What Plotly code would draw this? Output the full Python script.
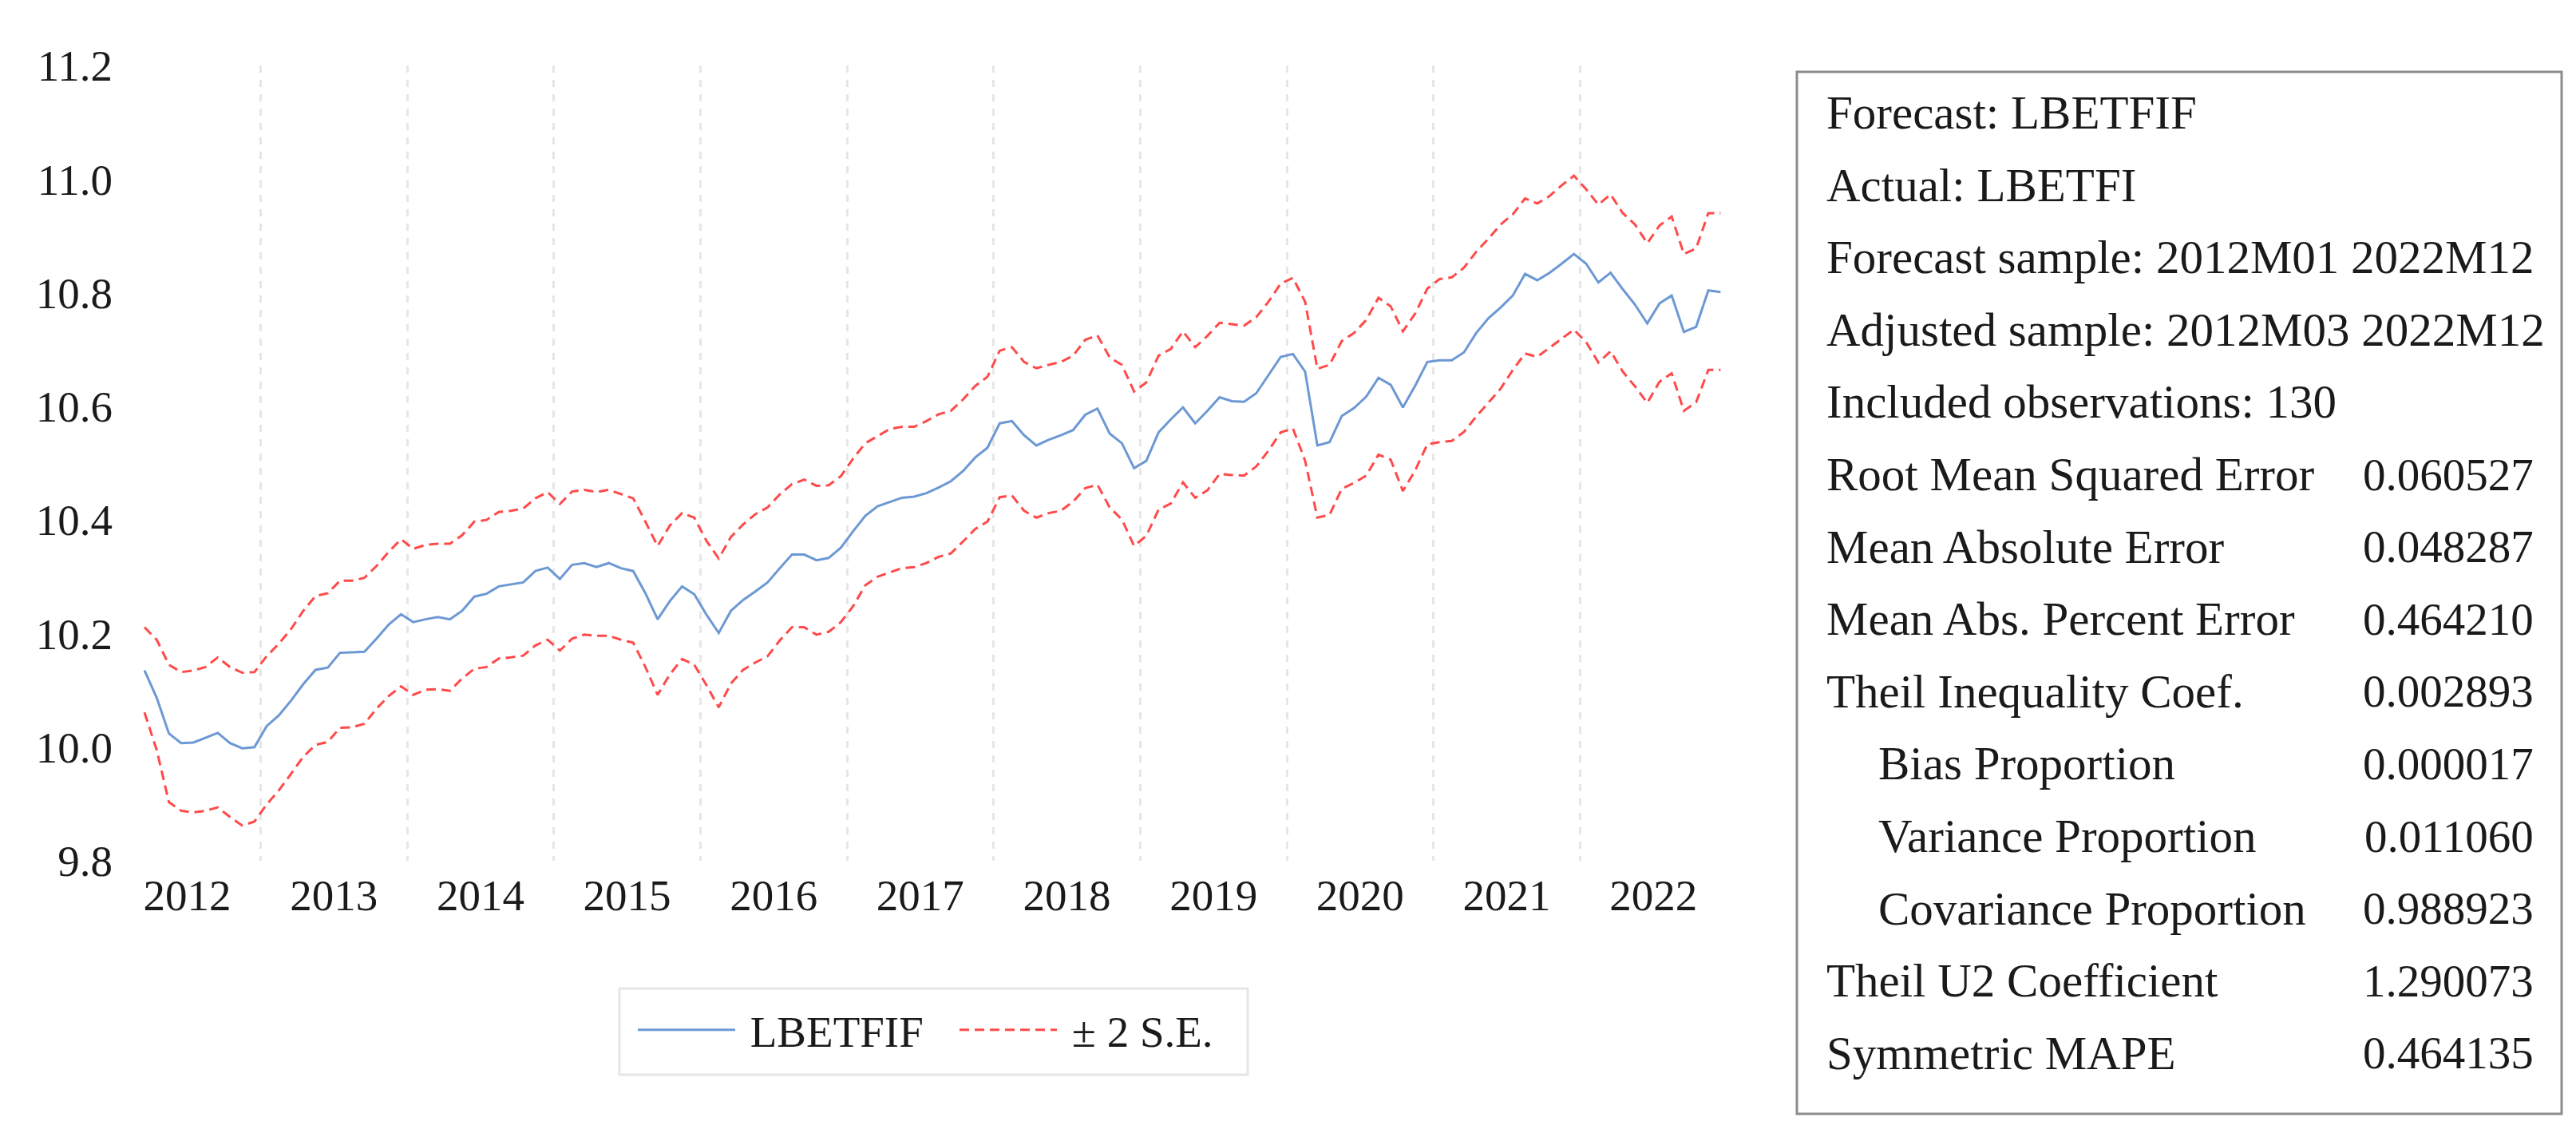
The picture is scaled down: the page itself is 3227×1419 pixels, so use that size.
import plotly.graph_objects as go

# ---------------- data ----------------
periods = [f"{y}M{m:02d}" for y in range(2012, 2023) for m in range(1, 13)][2:]  # 2012M03 .. 2022M12

forecast = [
    10.135, 10.087, 10.024, 10.007, 10.008, 10.017, 10.025, 10.007, 9.998, 10.000,
    10.037, 10.056, 10.082, 10.111, 10.136, 10.140, 10.166, 10.167, 10.168, 10.191, 10.216, 10.234,
    10.220, 10.225, 10.229, 10.225, 10.240, 10.265, 10.270, 10.283, 10.286, 10.290, 10.310, 10.316,
    10.296, 10.321, 10.324, 10.317, 10.324, 10.315, 10.310, 10.271, 10.225, 10.257, 10.283, 10.269,
    10.233, 10.201, 10.240, 10.259, 10.274, 10.290, 10.315, 10.339, 10.339, 10.329, 10.333, 10.351,
    10.380, 10.407, 10.424, 10.431, 10.439, 10.441, 10.447, 10.457, 10.468, 10.486, 10.510, 10.527,
    10.570, 10.574, 10.549, 10.531, 10.541, 10.549, 10.558, 10.585, 10.596, 10.552, 10.535, 10.491,
    10.504, 10.554, 10.577, 10.598, 10.570, 10.592, 10.616, 10.609, 10.608, 10.623, 10.655, 10.687,
    10.692, 10.661, 10.531, 10.537, 10.583, 10.597, 10.617, 10.650, 10.638, 10.598, 10.636, 10.678,
    10.681, 10.681, 10.695, 10.729, 10.755, 10.774, 10.795, 10.833, 10.822, 10.835, 10.851, 10.868,
    10.851, 10.818, 10.835, 10.806, 10.779, 10.746, 10.781, 10.795, 10.731, 10.740, 10.804, 10.801,
]

upper = [
    10.211, 10.189, 10.145, 10.132, 10.135, 10.141, 10.158, 10.141, 10.131, 10.132,
    10.160, 10.182, 10.208, 10.240, 10.266, 10.271, 10.293, 10.293, 10.298, 10.319, 10.344, 10.366,
    10.349, 10.356, 10.358, 10.358, 10.373, 10.397, 10.400, 10.414, 10.416, 10.420, 10.438, 10.449,
    10.428, 10.450, 10.453, 10.449, 10.453, 10.445, 10.438, 10.397, 10.354, 10.390, 10.412, 10.404,
    10.363, 10.332, 10.370, 10.392, 10.410, 10.422, 10.445, 10.463, 10.471, 10.460, 10.461, 10.477,
    10.508, 10.535, 10.547, 10.560, 10.564, 10.564, 10.574, 10.586, 10.592, 10.612, 10.636, 10.652,
    10.698, 10.704, 10.678, 10.667, 10.673, 10.678, 10.689, 10.717, 10.725, 10.686, 10.673, 10.626,
    10.642, 10.689, 10.701, 10.732, 10.704, 10.724, 10.747, 10.744, 10.742, 10.757, 10.784, 10.816,
    10.826, 10.784, 10.666, 10.673, 10.715, 10.729, 10.752, 10.791, 10.776, 10.732, 10.763, 10.807,
    10.824, 10.827, 10.844, 10.872, 10.895, 10.920, 10.938, 10.966, 10.957, 10.970, 10.989, 11.006,
    10.982, 10.955, 10.973, 10.940, 10.920, 10.887, 10.918, 10.934, 10.868, 10.878, 10.940, 10.940,
]

lower = [
    10.061, 9.995, 9.903, 9.888, 9.885, 9.888, 9.894, 9.877, 9.862, 9.869,
    9.899, 9.924, 9.953, 9.983, 10.004, 10.009, 10.034, 10.035, 10.041, 10.068, 10.090, 10.107,
    10.092, 10.101, 10.102, 10.099, 10.121, 10.138, 10.141, 10.156, 10.158, 10.161, 10.179, 10.189,
    10.170, 10.191, 10.198, 10.196, 10.196, 10.189, 10.184, 10.141, 10.092, 10.128, 10.155, 10.145,
    10.109, 10.070, 10.112, 10.136, 10.149, 10.160, 10.188, 10.211, 10.211, 10.198, 10.203, 10.220,
    10.248, 10.285, 10.300, 10.308, 10.315, 10.317, 10.324, 10.335, 10.341, 10.362, 10.384, 10.397,
    10.440, 10.443, 10.416, 10.404, 10.412, 10.416, 10.432, 10.456, 10.462, 10.422, 10.401, 10.354,
    10.372, 10.418, 10.429, 10.466, 10.439, 10.452, 10.481, 10.479, 10.478, 10.494, 10.522, 10.554,
    10.561, 10.504, 10.404, 10.409, 10.455, 10.465, 10.478, 10.515, 10.506, 10.451, 10.487, 10.533,
    10.537, 10.539, 10.555, 10.582, 10.607, 10.631, 10.664, 10.693, 10.687, 10.703, 10.719, 10.735,
    10.713, 10.677, 10.697, 10.661, 10.635, 10.606, 10.643, 10.658, 10.592, 10.607, 10.664, 10.664,
]

year_labels = [str(y) for y in range(2012, 2023)]
y_ticks = [9.8, 10.0, 10.2, 10.4, 10.6, 10.8, 11.0, 11.2]

stat_labels = [
    "Forecast: LBETFIF", "Actual: LBETFI", "Forecast sample: 2012M01 2022M12",
    "Adjusted sample: 2012M03 2022M12", "Included observations: 130",
    "Root Mean Squared Error", "Mean Absolute Error", "Mean Abs. Percent Error",
    "Theil Inequality Coef.", "Bias Proportion", "Variance Proportion",
    "Covariance Proportion", "Theil U2 Coefficient", "Symmetric MAPE",
]
stat_values = ["", "", "", "", "", "0.060527", "0.048287", "0.464210", "0.002893",
               "0.000017", "0.011060", "0.988923", "1.290073", "0.464135"]
stat_indent = [False] * 9 + [True, True, True] + [False, False]

# ---------------- layout helpers ----------------
W, H = 3227, 1419
ML, MR, MT, MB = 148, W - 2155, 74, H - 1070
PW, PH = W - ML - MR, H - MT - MB
FONT = "Liberation Serif"
FS = 55
FS_LABEL = 59
FS_VALUE = 57
TXT = "#1a1a1a"


def px_x(px):
    return (px - ML) / PW


def px_y(py):
    return 1 - (py - MT) / PH


x_index = [12 * (int(p[:4]) - 2012) + int(p[5:]) - 1 for p in periods]
year_pos = [12 * k + 5.5 for k in range(len(year_labels))]
grid_pos = [12 * k - 0.5 for k in range(1, len(year_labels))]

BLUE = "#6c98d4"
RED = "#ff4a4a"
DASH = "12px,7px"

fig = go.Figure()
fig.add_trace(go.Scatter(x=x_index, y=forecast, mode="lines", name="\u00a0LBETFIF",
                         line=dict(color=BLUE, width=3)))
fig.add_trace(go.Scatter(x=x_index, y=upper, mode="lines", name="\u00a0± 2 S.E.",
                         legendgroup="se", line=dict(color=RED, width=3, dash=DASH)))
fig.add_trace(go.Scatter(x=x_index, y=lower, mode="lines", name="\u00a0± 2 S.E.",
                         legendgroup="se", showlegend=False,
                         line=dict(color=RED, width=3, dash=DASH)))

fig.update_layout(
    width=W, height=H,
    margin=dict(l=ML, r=MR, t=MT, b=MB, autoexpand=False),
    paper_bgcolor="white", plot_bgcolor="white",
    font=dict(family=FONT, size=FS, color=TXT),
    showlegend=True,
    legend=dict(orientation="h", x=px_x(786), y=px_y(1282), xanchor="left", yanchor="middle",
                borderwidth=0, bgcolor="rgba(0,0,0,0)",
                font=dict(family=FONT, size=FS, color=TXT),
                itemwidth=122, traceorder="normal",
                entrywidth=266, entrywidthmode="pixels"),
    xaxis=dict(range=[0.367, 131.5], tickmode="array", tickvals=year_pos, ticktext=year_labels,
               showgrid=False, zeroline=False, showline=False, ticks="",
               ticklabelstandoff=6,
               minor=dict(tickmode="array", tickvals=grid_pos, showgrid=True,
                          gridcolor="#e6e6e6", gridwidth=3, griddash="dash", ticks="")),
    yaxis=dict(range=[9.8, 11.2], tickmode="array", tickvals=y_ticks,
               ticktext=[f"{v:.1f}" for v in y_ticks],
               showgrid=False, zeroline=False, showline=False, ticks="",
               ticklabelstandoff=14),
)

# legend frame
fig.add_shape(type="rect", xref="paper", yref="paper",
              x0=px_x(768), x1=px_x(1555), y0=px_y(1230), y1=px_y(1338),
              line=dict(color="#e6e6e6", width=3), fillcolor="rgba(0,0,0,0)")

# statistics panel
fig.add_shape(type="rect", xref="paper", yref="paper",
              x0=px_x(2243), x1=px_x(3201), y0=px_y(82), y1=px_y(1387),
              line=dict(color="#8c8c8c", width=3), fillcolor="rgba(0,0,0,0)", layer="above")
for k, (lab, val, ind) in enumerate(zip(stat_labels, stat_values, stat_indent)):
    yc = px_y(133 + 90.6 * k)
    fig.add_annotation(xref="paper", yref="paper", x=px_x(2343 if ind else 2278), y=yc,
                       text=lab, showarrow=False, xanchor="left", yanchor="middle",
                       font=dict(family=FONT, size=FS_LABEL, color=TXT))
    if val:
        fig.add_annotation(xref="paper", yref="paper", x=px_x(3168), y=yc,
                           text=val, showarrow=False, xanchor="right", yanchor="middle",
                           font=dict(family=FONT, size=FS_VALUE, color=TXT))

fig.write_html("out.html")
